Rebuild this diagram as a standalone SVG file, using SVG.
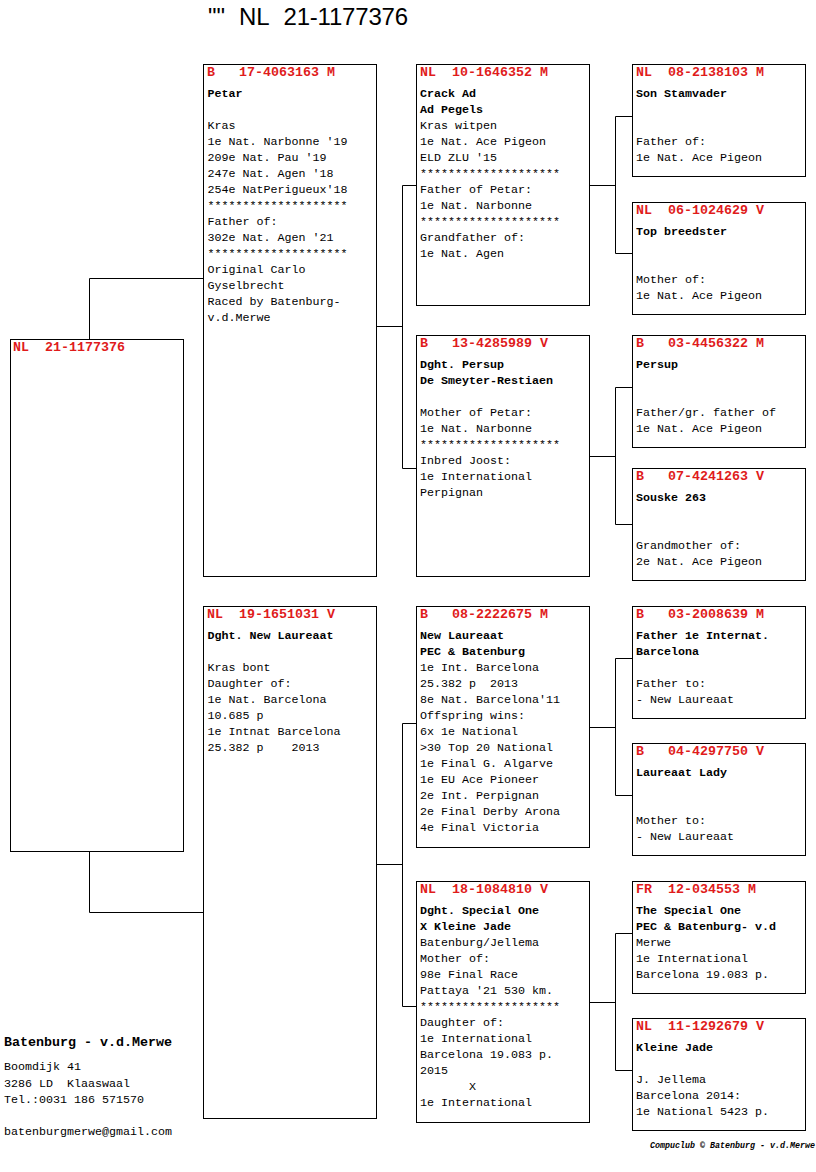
<svg xmlns="http://www.w3.org/2000/svg" width="816" height="1172" viewBox="0 0 816 1172">
<style>
text{font-family:"Liberation Mono","Courier New",monospace;white-space:pre}
.b{fill:#fff;stroke:#000;stroke-width:1}
.c{fill:none;stroke:#000;stroke-width:1}
.h{font-size:13.33px;font-weight:bold;fill:#e01b1b}
.t{font-size:11.67px;fill:#000}
.n{font-size:11.67px;fill:#000;font-weight:bold}
.o{font-size:13.33px;fill:#000;font-weight:bold}
.f{font-size:8.33px;font-weight:bold;font-style:italic;fill:#000}
.title{font-family:"Liberation Sans",Arial,sans-serif;font-size:24px;fill:#000}
</style>
<rect width="816" height="1172" fill="#fff"/>
<text class="title" y="25"><tspan x="208">""</tspan><tspan x="239">NL</tspan><tspan x="283.500" letter-spacing="-0.2">21-1177376</tspan></text>
<g id="connectors">
<path class="c" d="M89.5 339V278.5H203M89.5 852V912.5H203"/>
<path class="c" d="M377 326.5H402.5M416 185.5H402.5V468.5H416"/>
<path class="c" d="M377 864.5H402.5M416 723.5H402.5V1006.5H416"/>
<path class="c" d="M590 185.5H615.5M632 116.5H615.5V253.5H632"/>
<path class="c" d="M590 456.5H615.5M632 387.5H615.5V524.5H632"/>
<path class="c" d="M590 727.5H615.5M632 658.5H615.5V795.5H632"/>
<path class="c" d="M590 1002.5H615.5M632 933.5H615.5V1070.5H632"/>
</g>
<g id="n-root"><rect class="b" x="10.5" y="339.5" width="173" height="512"/>
<text class="h" x="13" y="351">NL  21-1177376</text></g>
<g id="n-b17"><rect class="b" x="203.5" y="64.5" width="173" height="512"/>
<text class="h" x="207" y="76">B   17-4063163 M</text>
<text class="n" x="207.500" y="97">Petar</text>
<text class="t" x="207.500" y="129">Kras</text>
<text class="t" x="207.500" y="145">1e Nat. Narbonne '19</text>
<text class="t" x="207.500" y="161">209e Nat. Pau '19</text>
<text class="t" x="207.500" y="177">247e Nat. Agen '18</text>
<text class="t" x="207.500" y="193">254e NatPerigueux'18</text>
<text class="t" x="207.500" y="209">********************</text>
<text class="t" x="207.500" y="225">Father of:</text>
<text class="t" x="207.500" y="241">302e Nat. Agen '21</text>
<text class="t" x="207.500" y="257">********************</text>
<text class="t" x="207.500" y="273">Original Carlo</text>
<text class="t" x="207.500" y="289">Gyselbrecht</text>
<text class="t" x="207.500" y="305">Raced by Batenburg-</text>
<text class="t" x="207.500" y="321">v.d.Merwe</text></g>
<g id="n-nl19"><rect class="b" x="203.500" y="606.500" width="173" height="512"/>
<text class="h" x="207" y="618">NL  19-1651031 V</text>
<text class="n" x="207.500" y="639">Dght. New Laureaat</text>
<text class="t" x="207.500" y="671">Kras bont</text>
<text class="t" x="207.500" y="687">Daughter of:</text>
<text class="t" x="207.500" y="703">1e Nat. Barcelona</text>
<text class="t" x="207.500" y="719">10.685 p</text>
<text class="t" x="207.500" y="735">1e Intnat Barcelona</text>
<text class="t" x="207.500" y="751">25.382 p    2013</text></g>
<g id="n-nl10"><rect class="b" x="416.500" y="64.500" width="173" height="241"/>
<text class="h" x="420" y="76">NL  10-1646352 M</text>
<text class="n" x="420" y="97">Crack Ad</text>
<text class="n" x="420" y="113">Ad Pegels</text>
<text class="t" x="420" y="129">Kras witpen</text>
<text class="t" x="420" y="145">1e Nat. Ace Pigeon</text>
<text class="t" x="420" y="161">ELD ZLU '15</text>
<text class="t" x="420" y="177">********************</text>
<text class="t" x="420" y="193">Father of Petar:</text>
<text class="t" x="420" y="209">1e Nat. Narbonne</text>
<text class="t" x="420" y="225">********************</text>
<text class="t" x="420" y="241">Grandfather of:</text>
<text class="t" x="420" y="257">1e Nat. Agen</text></g>
<g id="n-b13"><rect class="b" x="416.500" y="335.500" width="173" height="241"/>
<text class="h" x="420" y="347">B   13-4285989 V</text>
<text class="n" x="420" y="368">Dght. Persup</text>
<text class="n" x="420" y="384">De Smeyter-Restiaen</text>
<text class="t" x="420" y="416">Mother of Petar:</text>
<text class="t" x="420" y="432">1e Nat. Narbonne</text>
<text class="t" x="420" y="448">********************</text>
<text class="t" x="420" y="464">Inbred Joost:</text>
<text class="t" x="420" y="480">1e International</text>
<text class="t" x="420" y="496">Perpignan</text></g>
<g id="n-b08"><rect class="b" x="416.500" y="606.500" width="173" height="241"/>
<text class="h" x="420" y="618">B   08-2222675 M</text>
<text class="n" x="420" y="639">New Laureaat</text>
<text class="n" x="420" y="655">PEC &amp; Batenburg</text>
<text class="t" x="420" y="671">1e Int. Barcelona</text>
<text class="t" x="420" y="687">25.382 p  2013</text>
<text class="t" x="420" y="703">8e Nat. Barcelona'11</text>
<text class="t" x="420" y="719">Offspring wins:</text>
<text class="t" x="420" y="735">6x 1e National</text>
<text class="t" x="420" y="751">&gt;30 Top 20 National</text>
<text class="t" x="420" y="767">1e Final G. Algarve</text>
<text class="t" x="420" y="783">1e EU Ace Pioneer</text>
<text class="t" x="420" y="799">2e Int. Perpignan</text>
<text class="t" x="420" y="815">2e Final Derby Arona</text>
<text class="t" x="420" y="831">4e Final Victoria</text></g>
<g id="n-nl18"><rect class="b" x="416.500" y="881.500" width="173" height="241"/>
<text class="h" x="420" y="893">NL  18-1084810 V</text>
<text class="n" x="420" y="914">Dght. Special One</text>
<text class="n" x="420" y="930">X Kleine Jade</text>
<text class="t" x="420" y="946">Batenburg/Jellema</text>
<text class="t" x="420" y="962">Mother of:</text>
<text class="t" x="420" y="978">98e Final Race</text>
<text class="t" x="420" y="994">Pattaya '21 530 km.</text>
<text class="t" x="420" y="1010">********************</text>
<text class="t" x="420" y="1026">Daughter of:</text>
<text class="t" x="420" y="1042">1e International</text>
<text class="t" x="420" y="1058">Barcelona 19.083 p.</text>
<text class="t" x="420" y="1074">2015</text>
<text class="t" x="420" y="1090">       X</text>
<text class="t" x="420" y="1106">1e International</text></g>
<g id="n-nl08"><rect class="b" x="632.500" y="64.500" width="173" height="112"/>
<text class="h" x="636" y="76">NL  08-2138103 M</text>
<text class="n" x="636" y="97">Son Stamvader</text>
<text class="t" x="636" y="145">Father of:</text>
<text class="t" x="636" y="161">1e Nat. Ace Pigeon</text></g>
<g id="n-nl06"><rect class="b" x="632.500" y="202.500" width="173" height="112"/>
<text class="h" x="636" y="214">NL  06-1024629 V</text>
<text class="n" x="636" y="235">Top breedster</text>
<text class="t" x="636" y="283">Mother of:</text>
<text class="t" x="636" y="299">1e Nat. Ace Pigeon</text></g>
<g id="n-b03a"><rect class="b" x="632.500" y="335.500" width="173" height="112"/>
<text class="h" x="636" y="347">B   03-4456322 M</text>
<text class="n" x="636" y="368">Persup</text>
<text class="t" x="636" y="416">Father/gr. father of</text>
<text class="t" x="636" y="432">1e Nat. Ace Pigeon</text></g>
<g id="n-b07"><rect class="b" x="632.500" y="468.500" width="173" height="112"/>
<text class="h" x="636" y="480">B   07-4241263 V</text>
<text class="n" x="636" y="501">Souske 263</text>
<text class="t" x="636" y="549">Grandmother of:</text>
<text class="t" x="636" y="565">2e Nat. Ace Pigeon</text></g>
<g id="n-b03b"><rect class="b" x="632.500" y="606.500" width="173" height="112"/>
<text class="h" x="636" y="618">B   03-2008639 M</text>
<text class="n" x="636" y="639">Father 1e Internat.</text>
<text class="n" x="636" y="655">Barcelona</text>
<text class="t" x="636" y="687">Father to:</text>
<text class="t" x="636" y="703">- New Laureaat</text></g>
<g id="n-b04"><rect class="b" x="632.500" y="743.500" width="173" height="112"/>
<text class="h" x="636" y="755">B   04-4297750 V</text>
<text class="n" x="636" y="776">Laureaat Lady</text>
<text class="t" x="636" y="824">Mother to:</text>
<text class="t" x="636" y="840">- New Laureaat</text></g>
<g id="n-fr12"><rect class="b" x="632.500" y="881.500" width="173" height="112"/>
<text class="h" x="636" y="893">FR  12-034553 M</text>
<text class="n" x="636" y="914">The Special One</text>
<text class="n" x="636" y="930">PEC &amp; Batenburg- v.d</text>
<text class="t" x="636" y="946">Merwe</text>
<text class="t" x="636" y="962">1e International</text>
<text class="t" x="636" y="978">Barcelona 19.083 p.</text></g>
<g id="n-nl11"><rect class="b" x="632.500" y="1018.500" width="173" height="112"/>
<text class="h" x="636" y="1030">NL  11-1292679 V</text>
<text class="n" x="636" y="1051">Kleine Jade</text>
<text class="t" x="636" y="1083">J. Jellema</text>
<text class="t" x="636" y="1099">Barcelona 2014:</text>
<text class="t" x="636" y="1115">1e National 5423 p.</text></g>
<g id="owner">
<text class="o" x="4" y="1046">Batenburg - v.d.Merwe</text>
<text class="t" x="4" y="1070">Boomdijk 41</text>
<text class="t" x="4" y="1087">3286 LD  Klaaswaal</text>
<text class="t" x="4" y="1103">Tel.:0031 186 571570</text>
<text class="t" x="4" y="1135">batenburgmerwe@gmail.com</text>
</g>
<text class="f" x="650" y="1148">Compuclub © Batenburg - v.d.Merwe</text>
</svg>
